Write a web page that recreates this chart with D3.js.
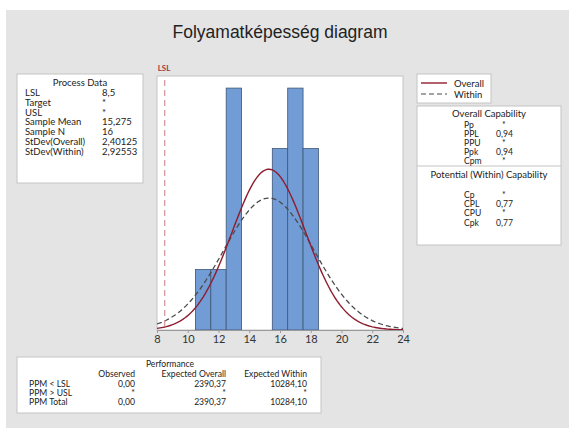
<!DOCTYPE html>
<html lang="hu">
<head>
<meta charset="UTF-8">
<title>Folyamatképesség diagram</title>
<script src="https://d3js.org/d3.v7.min.js"></script>
<style>
    body { margin: 0; background: #ffffff; }
    svg text { font-family: Lato, "Liberation Sans", sans-serif; fill: #222; }
    .title { font-family: "Liberation Sans", Arial, sans-serif; font-size: 17.5px; }
    .box { fill: #ffffff; stroke: #c4c4c4; stroke-width: 1; }
    .tbl { font-size: 9.5px; }
    .tbl-s { font-size: 8.6px; }
</style>
</head>
<body>
<svg width="569" height="428"></svg>
<script>
    // histogram (bin centre, count), bin width 1
    const binCenters = [11, 12, 13, 16, 17, 18];
    const binCounts = [1, 1, 4, 3, 4, 3];
    const xTicks = [8, 10, 12, 14, 16, 18, 20, 22, 24];

    const lsl = 8.5;
    const sampleMean = 15.275;
    const sampleN = 16;
    const sdOverall = 2.40125;
    const sdWithin = 2.92553;

    const processRows = [
        ["LSL", "8,5"], ["Target", "*"], ["USL", "*"], ["Sample Mean", "15,275"],
        ["Sample N", "16"], ["StDev(Overall)", "2,40125"], ["StDev(Within)", "2,92553"]
    ];
    const overallRows = [["Pp", "*"], ["PPL", "0,94"], ["PPU", "*"], ["Ppk", "0,94"], ["Cpm", "*"]];
    const withinRows = [["Cp", "*"], ["CPL", "0,77"], ["CPU", "*"], ["Cpk", "0,77"]];
    const perfHeader = ["Observed", "Expected Overall", "Expected Within"];
    const perfRows = [
        ["PPM < LSL", "0,00", "2390,37", "10284,10"],
        ["PPM > USL", "*", "*", "*"],
        ["PPM Total", "0,00", "2390,37", "10284,10"]
    ];

    const svg = d3.select("svg");

    // gray background
    svg.append("rect").attr("x", 6).attr("y", 10).attr("width", 563).attr("height", 418)
        .attr("fill", "#e4e4e4");

    svg.append("text").attr("class", "title")
        .attr("x", 280).attr("y", 38).attr("text-anchor", "middle")
        .text("Folyamatképesség diagram");

    // plot area
    const pLeft = 157, pRight = 403, pTop = 76, pBottom = 330;
    const x = d3.scaleLinear().domain([8, 24]).range([pLeft, pRight]);
    const y = d3.scaleLinear().domain([0, 4.2]).range([pBottom, pTop]);

    svg.append("rect").attr("class", "box")
        .attr("x", pLeft).attr("y", pTop).attr("width", pRight - pLeft).attr("height", pBottom - pTop);

    svg.append("g").selectAll("rect")
        .data(binCenters)
        .enter().append("rect")
        .attr("x", d => x(d - 0.5))
        .attr("y", (d, i) => y(binCounts[i]))
        .attr("width", d => x(d + 0.5) - x(d - 0.5))
        .attr("height", (d, i) => y(0) - y(binCounts[i]))
        .attr("fill", "#729cd5")
        .attr("stroke", "#3f5676")
        .attr("stroke-width", 0.8);

    // fitted normal curves
    function curve(sd) {
        const pts = d3.range(8, 24.001, 0.1);
        return pts.map(v => [v, sampleN * Math.exp(-0.5 * Math.pow((v - sampleMean) / sd, 2)) / (sd * Math.sqrt(2 * Math.PI))]);
    }
    const line = d3.line().x(d => x(d[0])).y(d => y(d[1]));

    svg.append("path").attr("d", line(curve(sdWithin)))
        .attr("fill", "none").attr("stroke", "#4a4a4a").attr("stroke-width", 1.3)
        .attr("stroke-dasharray", "5,3");
    svg.append("path").attr("d", line(curve(sdOverall)))
        .attr("fill", "none").attr("stroke", "#8e1d2e").attr("stroke-width", 1.4);

    // LSL
    svg.append("line")
        .attr("x1", x(lsl)).attr("x2", x(lsl)).attr("y1", pTop + 4).attr("y2", pBottom)
        .attr("stroke", "#d49a9e").attr("stroke-width", 1.3).attr("stroke-dasharray", "6,4");
    svg.append("text").attr("x", x(lsl) - 7).attr("y", 71)
        .style("font-size", "8px").style("font-weight", "bold").style("fill", "#a5373f")
        .text("LSL");

    // x axis
    const axis = svg.append("g")
        .attr("transform", `translate(0,${pBottom})`)
        .call(d3.axisBottom(x).tickValues(xTicks).tickSize(3).tickFormat(d3.format("d")));
    axis.select(".domain").attr("stroke", "#9a9a9a");
    axis.selectAll(".tick line").attr("stroke", "#9a9a9a");
    axis.selectAll(".tick text").style("font-size", "11px").style("fill", "#333")
        .style("font-family", "Lato, sans-serif").attr("dy", "0.6em");

    // Process Data box
    const pd = svg.append("g").attr("class", "tbl");
    pd.append("rect").attr("class", "box").attr("x", 17).attr("y", 74).attr("width", 126).attr("height", 109);
    pd.append("text").attr("x", 80).attr("y", 86).attr("text-anchor", "middle").text("Process Data");
    processRows.forEach((r, i) => {
        pd.append("text").attr("x", 25).attr("y", 96 + i * 9.8).text(r[0]);
        pd.append("text").attr("x", 102).attr("y", 96 + i * 9.8).text(r[1]);
    });

    // legend
    const lg = svg.append("g").attr("class", "tbl");
    lg.append("rect").attr("class", "box").attr("x", 417).attr("y", 74).attr("width", 74).attr("height", 29);
    lg.append("line").attr("x1", 421).attr("x2", 447).attr("y1", 83).attr("y2", 83)
        .attr("stroke", "#8e1d2e").attr("stroke-width", 1.4);
    lg.append("line").attr("x1", 421).attr("x2", 447).attr("y1", 94).attr("y2", 94)
        .attr("stroke", "#4a4a4a").attr("stroke-width", 1.2).attr("stroke-dasharray", "5,3");
    lg.append("text").attr("x", 454).attr("y", 86.5).text("Overall");
    lg.append("text").attr("x", 454).attr("y", 97.5).text("Within");

    // capability box
    const cp = svg.append("g").attr("class", "tbl-s");
    cp.append("rect").attr("class", "box").attr("x", 417).attr("y", 106).attr("width", 144).attr("height", 139);
    cp.append("line").attr("x1", 417).attr("x2", 561).attr("y1", 166).attr("y2", 166).attr("stroke", "#c4c4c4");
    cp.append("text").attr("x", 489).attr("y", 117).style("font-size", "9.5px")
        .attr("text-anchor", "middle").text("Overall Capability");
    overallRows.forEach((r, i) => {
        cp.append("text").attr("x", 464).attr("y", 127.5 + i * 9).text(r[0]);
        cp.append("text").attr("x", r[1] === "*" ? 502 : 496).attr("y", 127.5 + i * 9).text(r[1]);
    });
    cp.append("text").attr("x", 489).attr("y", 178).style("font-size", "9.5px")
        .attr("text-anchor", "middle").text("Potential (Within) Capability");
    withinRows.forEach((r, i) => {
        cp.append("text").attr("x", 464).attr("y", 197.5 + i * 9.4).text(r[0]);
        cp.append("text").attr("x", r[1] === "*" ? 502 : 496).attr("y", 197.5 + i * 9.4).text(r[1]);
    });

    // performance box
    const pf = svg.append("g").attr("class", "tbl-s");
    pf.append("rect").attr("class", "box").attr("x", 17).attr("y", 357).attr("width", 304).attr("height", 56);
    pf.append("text").attr("x", 170).attr("y", 366.5).attr("text-anchor", "middle").text("Performance");
    const colX = [135, 226, 307];
    perfHeader.forEach((h, j) => {
        pf.append("text").attr("x", colX[j]).attr("y", 376.5).attr("text-anchor", "end").text(h);
    });
    perfRows.forEach((r, i) => {
        pf.append("text").attr("x", 29).attr("y", 387 + i * 9.2).text(r[0]);
        r.slice(1).forEach((v, j) => {
            pf.append("text").attr("x", colX[j]).attr("y", 387 + i * 9.2).attr("text-anchor", "end").text(v);
        });
    });
</script>
</body>
</html>
